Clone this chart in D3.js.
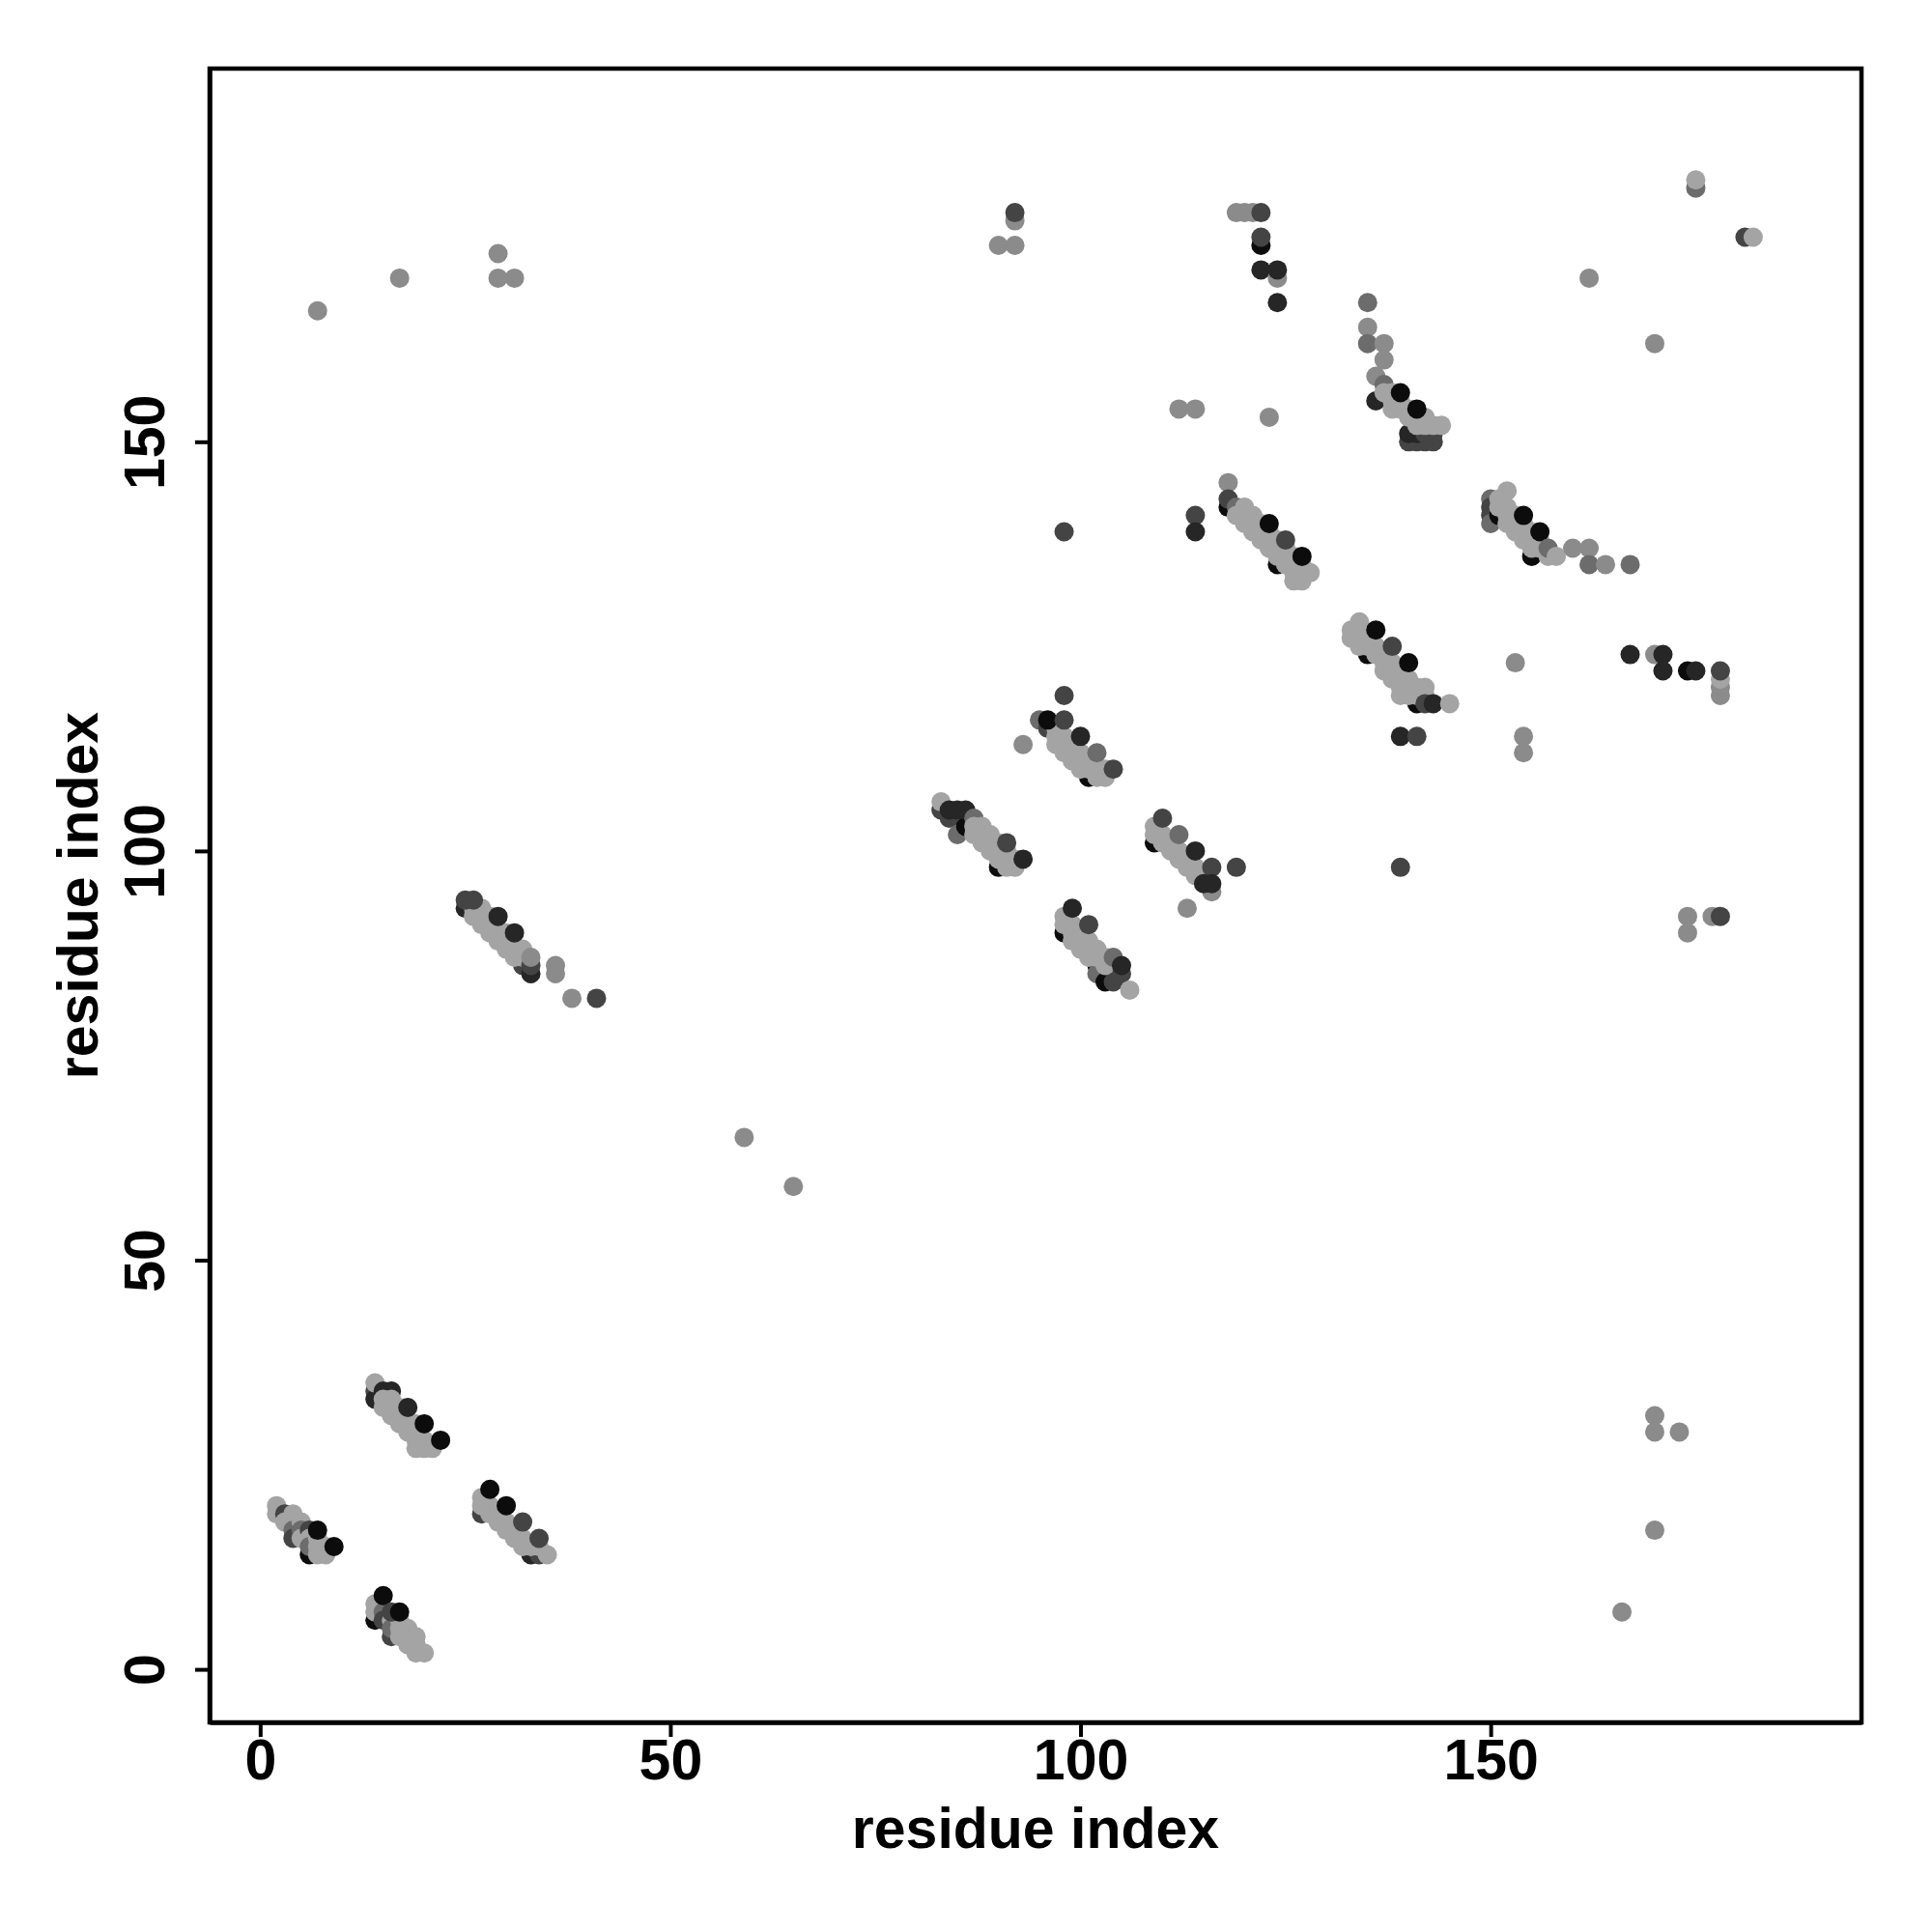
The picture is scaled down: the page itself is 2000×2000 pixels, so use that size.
<!DOCTYPE html>
<html><head><meta charset="utf-8">
<script src="https://cdn.jsdelivr.net/npm/d3@7"></script>
<style>body{margin:0;background:#fff}</style>
</head><body>
<svg id="c" width="2000" height="2000"></svg>
<script>
// grey levels: 0 light .. 5 black
const shadeColors = ["#a4a4a4","#8b8b8b","#6c6c6c","#444444","#262626","#0c0c0c"];
const xTicks = [0,50,100,150];
const yTicks = [0,50,100,150];
const xTitle = "residue index";
const yTitle = "residue index";

// contacts: [residue i, residue j, grey level]
const clusterA = [[2,20,0],[2,19,0],[3,19,3],[3,18,0],[4,19,0],[4,18,0],[4,17,2],[4,16,3],[5,18,0],[5,17,2],[5,16,0],[6,17,3],[6,14,5],[6,16,0],[6,15,2],[7,16,0],[7,15,0],[7,14,0],[8,15,0],[8,14,0],[7,17,5],[9,15,5]];
const clusterB = [[14,34,3],[14,33,4],[14,35,0],[15,34,4],[16,34,4],[15,33,0],[15,32,0],[16,33,0],[16,32,0],[16,31,0],[17,32,0],[17,31,0],[17,30,0],[18,30,0],[18,29,0],[19,30,0],[19,29,0],[19,28,0],[20,28,0],[19,27,0],[20,27,0],[21,27,0],[18,32,4],[20,30,5],[22,28,5]];
const clusterC = [[14,6,5],[14,8,0],[14,7,0],[15,7,2],[15,6,3],[16,4,3],[16,6,0],[16,5,2],[17,6,0],[17,5,0],[17,4,0],[18,5,0],[18,4,0],[18,3,0],[19,4,0],[19,3,0],[19,2,0],[20,2,0],[15,9,5],[16,7,3],[17,7,5]];
const clusterD = [[27,19,3],[33,14,4],[34,14,3],[27,21,0],[27,20,0],[28,20,0],[28,19,0],[29,19,0],[29,18,0],[30,18,0],[30,17,0],[31,17,0],[31,16,0],[32,16,0],[32,15,0],[33,15,0],[34,15,0],[35,14,0],[28,22,5],[30,20,5],[32,18,3],[34,16,3]];
const clusterE = [[25,93,4],[32,86,3],[33,85,4],[26,93,0],[26,92,0],[27,93,0],[27,92,0],[27,91,0],[28,92,0],[28,91,0],[28,90,0],[29,90,0],[29,89,0],[30,90,0],[30,89,0],[30,88,0],[31,88,0],[31,87,0],[32,88,0],[32,87,0],[25,94,3],[26,94,3],[29,92,4],[31,90,4],[33,86,3],[33,87,1],[36,85,1],[36,86,1],[38,82,1],[41,82,3]];
const clusterF = [[93,113,1],[95,116,2],[96,115,3],[101,109,5],[97,115,0],[97,114,0],[97,113,0],[98,114,0],[98,113,0],[98,112,0],[99,113,0],[99,112,0],[99,111,0],[100,112,0],[100,111,0],[100,110,0],[101,111,0],[101,110,0],[102,110,0],[102,109,0],[103,110,0],[103,109,0],[96,116,5],[98,116,3],[98,119,3],[100,114,4],[102,112,2],[104,110,3]];
const clusterG = [[83,105,3],[84,104,3],[85,102,2],[86,103,5],[90,98,5],[83,106,0],[84,105,4],[85,105,4],[86,105,4],[87,104,2],[87,103,0],[87,102,0],[88,103,0],[88,102,0],[88,101,0],[89,102,0],[89,101,0],[89,100,0],[90,101,0],[90,100,0],[90,99,0],[91,100,0],[91,99,0],[91,98,0],[92,99,0],[92,98,0],[91,101,3],[93,99,4]];
const clusterH = [[98,90,5],[102,86,5],[102,85,2],[103,84,5],[104,84,3],[98,92,0],[98,91,0],[99,91,0],[99,90,0],[99,89,0],[100,90,0],[100,89,0],[100,88,0],[101,89,0],[101,88,0],[101,87,0],[102,88,0],[102,87,0],[103,87,0],[103,86,0],[99,93,4],[101,91,3],[104,87,2],[105,85,3],[105,86,4],[106,83,0]];
const clusterI = [[109,101,5],[109,103,0],[109,102,0],[110,102,0],[110,101,0],[111,101,0],[111,100,0],[112,100,0],[112,99,0],[113,99,0],[113,98,0],[114,98,0],[114,97,0],[115,97,0],[110,104,3],[112,102,2],[114,100,4],[116,98,3],[119,98,3],[116,95,1],[115,96,4],[116,96,4],[113,93,1]];
const clusterJ = [[92,177,1],[92,178,3],[90,174,1],[92,174,1],[119,178,1],[120,178,1],[121,178,1],[122,178,3],[122,174,5],[122,175,3],[122,171,4],[124,170,1],[124,171,4],[124,167,4]];
const clusterK = [[118,142,5],[124,135,5],[118,145,1],[118,143,3],[119,142,2],[119,141,0],[120,142,0],[120,141,0],[120,140,0],[121,141,0],[121,140,0],[121,139,0],[122,140,0],[122,139,0],[122,138,0],[123,139,0],[123,138,0],[123,137,0],[124,138,0],[124,137,0],[124,136,0],[125,137,0],[125,136,0],[125,135,0],[126,136,0],[126,135,0],[126,134,0],[127,135,0],[127,134,0],[128,134,0],[126,133,0],[127,133,0],[123,140,5],[125,138,3],[127,136,5]];
const clusterL = [[135,124,5],[141,118,5],[133,127,0],[133,126,0],[134,128,0],[134,127,0],[134,126,0],[134,125,0],[135,126,0],[135,125,0],[136,125,0],[136,124,0],[137,124,0],[137,123,0],[137,122,0],[138,123,0],[138,122,0],[138,121,0],[139,122,0],[139,121,0],[139,120,0],[139,119,0],[140,121,0],[140,120,0],[140,119,0],[141,120,0],[141,119,0],[142,120,0],[142,119,0],[136,127,5],[138,125,3],[140,123,5],[142,118,3],[143,118,4],[145,118,0],[139,114,4],[141,114,3],[139,98,3]];
const clusterM = [[135,167,2],[135,164,1],[135,162,2],[137,162,1],[137,160,1],[136,158,1],[137,157,2],[136,155,4],[140,150,3],[141,150,3],[142,150,3],[143,150,3],[140,151,4],[141,151,4],[142,151,3],[143,151,3],[137,156,0],[138,156,0],[138,155,0],[138,154,0],[139,155,0],[139,154,0],[140,154,0],[140,153,0],[141,153,0],[141,152,0],[142,153,0],[142,152,0],[143,152,0],[144,152,0],[139,156,5],[141,154,5]];
const clusterN = [[150,143,2],[150,142,3],[150,141,3],[150,140,2],[151,141,5],[155,136,5],[152,144,0],[151,143,0],[151,142,0],[152,142,0],[152,141,0],[152,140,0],[153,141,0],[153,140,0],[153,139,0],[154,140,0],[154,139,0],[154,138,0],[155,139,0],[155,138,0],[155,137,0],[156,138,0],[156,137,0],[157,136,0],[154,141,5],[156,139,5],[157,137,2],[158,136,0],[160,137,1],[162,137,1],[162,135,2],[164,135,1],[167,135,2],[167,124,4],[153,123,1],[154,114,1],[154,112,1]];
const clusterO = [[170,124,1],[171,124,4],[171,122,4],[174,122,5],[175,122,4],[178,119,1],[178,120,1],[178,121,0],[178,122,3],[174,92,1],[174,90,1],[177,92,1],[178,92,3]];
const scattered = [[7,166,1],[17,170,1],[29,173,1],[29,170,1],[31,170,1],[59,65,1],[65,59,1],[112,154,1],[114,154,1],[123,153,1],[98,139,3],[114,141,3],[114,139,4],[175,181,2],[175,182,0],[181,175,3],[182,175,0],[162,170,1],[170,162,1],[170,31,1],[170,29,1],[173,29,1],[170,17,1],[166,7,1]];

const groups = [clusterA,clusterB,clusterC,clusterD,clusterE,clusterF,clusterG,clusterH,clusterI,clusterJ,clusterK,clusterL,clusterM,clusterN,clusterO,scattered];
const pts = groups.flat();

const L=217, R=1927, T=71, B=1783;
const x = d3.scaleLinear().domain([-6.16,195.2]).range([L,R]);
const y = d3.scaleLinear().domain([-6.48,195.6]).range([B,T]);
const svg = d3.select("#c");
svg.append("rect").attr("width",2000).attr("height",2000).attr("fill","#fff");

svg.append("g").selectAll("circle").data(pts).join("circle")
  .attr("cx",d=>x(d[0])).attr("cy",d=>y(d[1])).attr("r",10)
  .attr("fill",d=>shadeColors[d[2]]);

const font = "'Liberation Sans', Arial, Helvetica, sans-serif";
const xa = svg.append("g").attr("transform",`translate(0,${B})`)
  .call(d3.axisBottom(x).tickValues(xTicks).tickSize(15).tickSizeOuter(0).tickPadding(2).tickFormat(d3.format("d")));
const ya = svg.append("g").attr("transform",`translate(${L},0)`)
  .call(d3.axisLeft(y).tickValues(yTicks).tickSize(15).tickSizeOuter(0).tickFormat(d3.format("d")));
[xa,ya].forEach(g=>{
  g.select(".domain").attr("stroke","#000").attr("stroke-width",4.5);
  g.selectAll(".tick line").attr("stroke","#000").attr("stroke-width",4);
  g.selectAll("text").attr("font-family",font).attr("font-weight","bold").attr("font-size",59).attr("fill","#000");
});
ya.selectAll(".tick text")
  .attr("x",0).attr("dy",null).attr("y",0)
  .attr("text-anchor","middle")
  .attr("transform",`translate(${170-L},0) rotate(-90)`);

svg.append("rect").attr("x",L).attr("y",T).attr("width",R-L).attr("height",B-T)
  .attr("fill","none").attr("stroke","#000").attr("stroke-width",4.5);

svg.append("text").attr("x",(L+R)/2).attr("y",1913).attr("text-anchor","middle")
  .attr("font-family",font).attr("font-weight","bold").attr("font-size",59).text(xTitle);
svg.append("text").attr("transform",`translate(101,${(T+B)/2}) rotate(-90)`).attr("text-anchor","middle")
  .attr("font-family",font).attr("font-weight","bold").attr("font-size",59).text(yTitle);
</script>
</body></html>
